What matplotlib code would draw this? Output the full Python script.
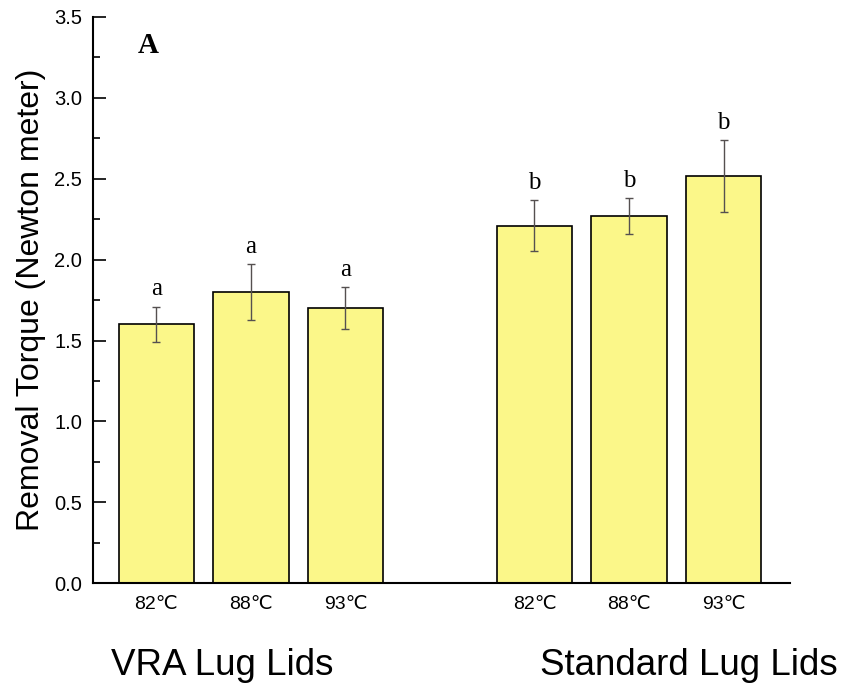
import matplotlib.pyplot as plt
from matplotlib.ticker import MultipleLocator

temps = ['82℃', '88℃', '93℃', '82℃', '88℃', '93℃']
positions = [0, 1, 2, 4, 5, 6]
torque = [1.60, 1.80, 1.70, 2.21, 2.27, 2.515]
err = [0.11, 0.175, 0.13, 0.157, 0.112, 0.222]
letters = ['a', 'a', 'a', 'b', 'b', 'b']
groups = ['VRA Lug Lids', 'Standard Lug Lids']

sans = ['Liberation Sans', 'DejaVu Sans']
serif = ['Liberation Serif', 'DejaVu Serif']

fig = plt.figure(figsize=(8.41, 6.87), dpi=100)
ax = fig.add_axes([0.1106, 0.1508, 0.8284, 0.8249])

ax.bar(positions, torque, width=0.8, color='#FBF789', edgecolor='black', linewidth=1.2, zorder=2)
ax.errorbar(positions, torque, yerr=err, fmt='none', ecolor='#555050', elinewidth=1, capsize=3, capthick=1, zorder=3)

for x, y, e, l in zip(positions, torque, err, letters):
    ax.annotate(l, (x, y + e), xytext=(0, 8), textcoords='offset points',
                ha='center', va='baseline', fontsize=18, family=serif)

ax.set_xlim(-0.67, 6.70)
ax.set_ylim(0, 3.5)
ax.set_xticks(positions)
ax.set_xticklabels(temps, family=sans, fontsize=14)
ax.tick_params(axis='x', length=0, pad=9)
ax.yaxis.set_major_locator(MultipleLocator(0.5))
ax.yaxis.set_minor_locator(MultipleLocator(0.25))
ax.tick_params(axis='y', which='major', direction='in', length=9, width=1.2, labelsize=14.5, pad=8)
ax.tick_params(axis='y', which='minor', direction='in', length=5, width=1.2)
for lab in ax.get_yticklabels():
    lab.set_family(sans)
ax.yaxis.set_major_formatter(plt.FormatStrFormatter('%.1f'))

ax.spines['top'].set_visible(False)
ax.spines['right'].set_visible(False)
ax.spines['left'].set_linewidth(1.5)
ax.spines['bottom'].set_linewidth(1.5)

ax.set_ylabel('Removal Torque (Newton meter)', family=sans, fontsize=23, labelpad=6)
ax.text(0.08, 0.95, 'A', transform=ax.transAxes, family=serif, fontweight='bold', fontsize=21, va='center', ha='center')

fig.text(0.264, 0.032, groups[0], family=sans, fontsize=26.5, ha='center', va='center')
fig.text(0.819, 0.032, groups[1], family=sans, fontsize=26.5, ha='center', va='center')

plt.savefig('out.png', dpi=100)
